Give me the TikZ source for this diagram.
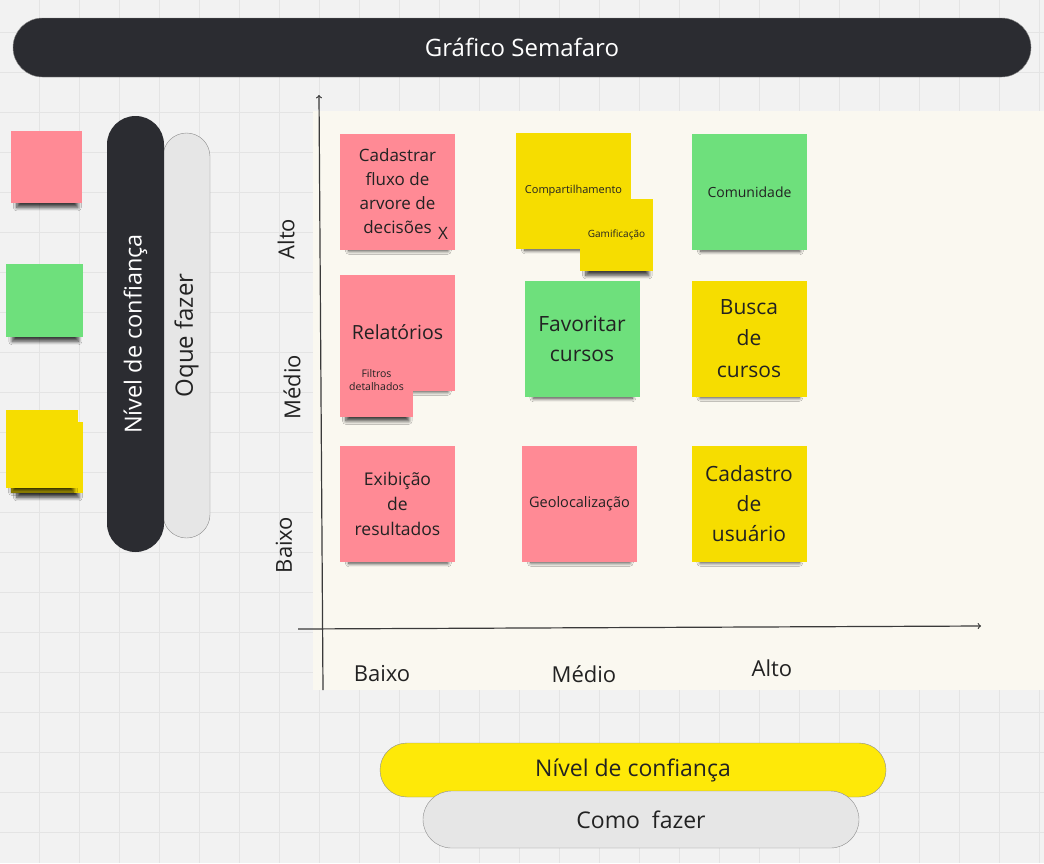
\documentclass[tikz,border=0pt]{standalone}
\usepackage{fontspec}
\setmainfont{Open Sans}
\usetikzlibrary{positioning}
\usetikzlibrary{shadows.blur}

\definecolor{boardbg}{HTML}{F2F2F2}
\definecolor{boardgrid}{HTML}{E4E4E4}
\definecolor{chartbg}{HTML}{FAF8F0}
\definecolor{darkpill}{HTML}{2B2C31}
\definecolor{lightpill}{HTML}{E6E6E6}
\definecolor{pillline}{HTML}{8C8C8C}
\definecolor{notepink}{HTML}{FF8A95}
\definecolor{notegreen}{HTML}{6EE07C}
\definecolor{noteyellow}{HTML}{F6DD00}
\definecolor{pillyellow}{HTML}{FEE908}
\definecolor{notetext}{HTML}{222222}
\definecolor{axisline}{HTML}{3A3A3A}

\newcommand{\fsz}[2]{\fontsize{#1}{#2}\selectfont}

\begin{document}
\begin{tikzpicture}[x=1pt, y=-1pt,
		note/.style={inner sep=0pt, align=center, text=notetext, minimum width=115pt, minimum height=116pt,
			blur shadow={shadow xshift=1pt, shadow yshift=-11pt, shadow scale=0.86,
				shadow blur radius=4pt, shadow blur steps=8, shadow opacity=75}},
		smallnote/.style={note, minimum width=73pt, minimum height=72pt},
		pinknote/.style={fill=notepink},
		greennote/.style={fill=notegreen},
		yellownote/.style={fill=noteyellow},
		pill/.style={inner sep=0pt, text=notetext},
		axis/.style={->, draw=axisline, line width=1.2pt},
		axislabel/.style={text=notetext, font=\fsz{22}{26}}]
				
				\useasboundingbox (0,0) rectangle (1044,863);
				\fill[boardbg] (0,0) rectangle (1044,863);
				\foreach \gx in {39,79,...,1039}
					\draw[boardgrid, line width=1pt] (\gx,0) -- (\gx,863);
				\foreach \gy in {32,72,...,832}
					\draw[boardgrid, line width=1pt] (0,\gy) -- (1044,\gy);
				
				% titulo
				\node[pill, fill=darkpill, draw=pillline, minimum width=1018pt, minimum height=59pt,
					rounded corners=29.5pt, text=white, font=\fsz{24}{28}] (titulo) at (522,47.5) {Gráfico Semafaro};
				
				% legenda
				\node[note, pinknote, minimum width=71pt, minimum height=72pt] (lgpink) at (46.5,167) {};
				\node[note, greennote, minimum width=77pt, minimum height=73pt] (lggreen) at (44.5,300.5) {};
				\node[note, yellownote, minimum width=72pt, minimum height=71pt] (lgyellowb) at (47,457.5) {};
				\node[note, yellownote, minimum width=72pt, minimum height=78pt] (lgyellow) at (42,449) {};
				
				\node[pill, fill=lightpill, draw=pillline, minimum width=405pt, minimum height=47pt,
					rounded corners=23.5pt, rotate=90, font=\fsz{24}{28}] (oque) at (186.5,335.5) {Oque fazer};
				\node[pill, fill=darkpill, minimum width=436pt, minimum height=57pt,
					rounded corners=28.5pt, rotate=90, text=white, font=\fsz{23.5}{28}] (nivelv) at (135.5,334) {Nível de confiança};
				
				% grafico
				\fill[chartbg] (313,111) rectangle (1044,690);
				\coordinate (yfoot) at (323,690);
				\coordinate (ytip) at (319,95);
				\coordinate (xfoot) at (298,629);
				\coordinate (xtip) at (981,626);
				\draw[axis] (yfoot) -- (ytip);
				\draw[axis] (xfoot) -- (xtip);
				
				\node[axislabel] (xbaixo) at (382,674) {Baixo};
				\node[axislabel] (xmedio) at (584,674) {Médio};
				\node[axislabel] (xalto) at (772,668) {Alto};
				\node[axislabel, rotate=90] (yalto) at (286,239) {Alto};
				\node[axislabel, rotate=90] (ymedio) at (292,387) {Médio};
				\node[axislabel, rotate=90] (ybaixo) at (284,545) {Baixo};
				
				% notas
				\node[note, pinknote, font=\fsz{17}{24}] (cadastrar) at (397.5,191.5) {Cadastrar\\fluxo de\\arvore de\\decisões};
				\node[text=notetext, font=\fsz{17}{20}] (marca) at (443,233) {X};
				\node[note, yellownote, font=\fsz{11}{13}] (compart) at (573.5,191) {Compartilhamento};
				\node[smallnote, yellownote, font=\fsz{10}{12}] (gamif) at (616.5,235) {Gamificação};
				\node[note, greennote, font=\fsz{14}{16}] (comunid) at (749.5,192) {Comunidade};
				
				\node[note, pinknote, font=\fsz{19.5}{24}] (relat) at (397.5,332.5) {Relatórios};
				\node[smallnote, pinknote, font=\fsz{10.5}{13}] (filtros) at (376.5,380.5) {Filtros\\detalhados};
				\node[note, greennote, font=\fsz{21}{30}] (favorit) at (582,339) {Favoritar\\cursos};
				\node[note, yellownote, font=\fsz{21}{31.5}] (busca) at (749,338.5) {Busca\\de\\cursos};
				
				\node[note, pinknote, font=\fsz{17.5}{25}] (exib) at (397.5,504) {Exibição\\de\\resultados};
				\node[note, pinknote, font=\fsz{14.5}{17}] (geoloc) at (579.5,503.5) {Geolocalização};
				\node[note, yellownote, font=\fsz{21}{30}] (cadusu) at (749,503.5) {Cadastro\\de\\usuário};
				
				% rodape
				\node[pill, fill=pillyellow, draw=pillline, minimum width=506pt, minimum height=54pt,
					rounded corners=27pt, font=\fsz{23}{27}] (nivelh) at (633,770) {Nível de confiança};
				\node[pill, fill=lightpill, draw=pillline, minimum width=436pt, minimum height=57pt,
					rounded corners=28.5pt, font=\fsz{23}{27}] (como) at (641,819.5) {Como\ \ fazer};
				
			\end{tikzpicture}
\end{document}
